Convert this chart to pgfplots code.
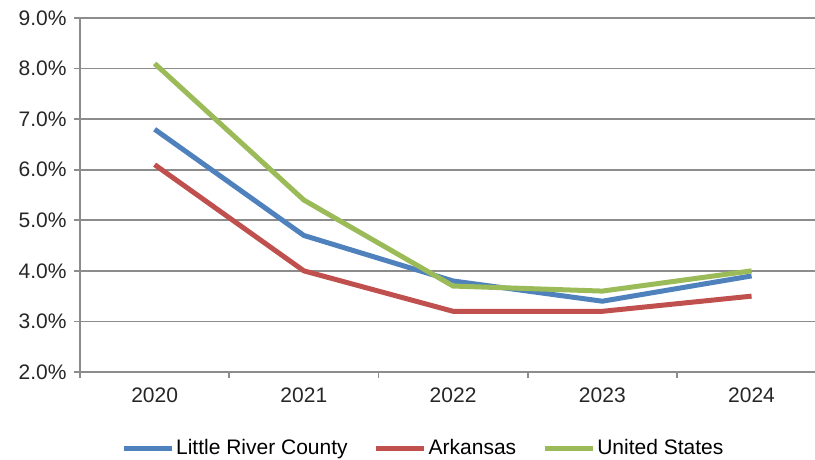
\documentclass[border=0pt]{standalone}
\usepackage{pgfplots}
\pgfplotsset{compat=1.18}
\usepackage{fontspec}
\setmainfont{Liberation Sans}
\definecolor{cblue}{HTML}{4F81BD}
\definecolor{cred}{HTML}{C0504D}
\definecolor{cgreen}{HTML}{9BBB59}
\definecolor{gridc}{HTML}{8C8C8C}
\begin{document}
\begin{tikzpicture}
\begin{axis}[
  at={(0,0)}, anchor=south west,
  scale only axis, width=735pt, height=354pt,
  xmin=-0.5, xmax=4.425, ymin=2, ymax=9,
  axis x line*=bottom, axis y line*=left,
  axis line style={gridc, line width=1.6pt},
  xtick={0,1,2,3,4}, xticklabels={2020,2021,2022,2023,2024},
  major x tick style={draw=none},
  minor xtick={-0.5,0.5,1.5,2.5,3.5},
  minor tick length=6pt,
  minor x tick style={gridc, line width=1.6pt},
  ytick={2,3,4,5,6,7,8,9},
  yticklabels={2.0\%,3.0\%,4.0\%,5.0\%,6.0\%,7.0\%,8.0\%,9.0\%},
  major tick length=6pt, tick align=outside,
  y tick style={gridc, line width=1.6pt},
  ymajorgrids, major grid style={gridc, line width=1.6pt},
  ticklabel style={font=\fontsize{21}{25}\selectfont, text=black!85},
  yticklabel style={xshift=-4pt},
  xticklabel style={yshift=-6pt},
  legend style={at={(0.467,-0.215)}, anchor=center, draw=none, fill=none,
    legend columns=-1, font=\fontsize{21}{25}\selectfont,
    /tikz/every even column/.append style={column sep=24pt},
    inner sep=0pt},
  legend image code/.code={\draw[line width=5pt] (0pt,0pt) -- (48pt,0pt);},
  clip=false,
]
\addplot[cblue, line width=5pt] coordinates {(0,6.8) (1,4.7) (2,3.8) (3,3.4) (4,3.9)};
\addplot[cred, line width=5pt] coordinates {(0,6.1) (1,4.0) (2,3.2) (3,3.2) (4,3.5)};
\addplot[cgreen, line width=5pt] coordinates {(0,8.1) (1,5.4) (2,3.7) (3,3.6) (4,4.0)};
\legend{Little River County, Arkansas, United States}
\end{axis}
\pgfresetboundingbox
\path[use as bounding box] (-80pt,-87pt) rectangle (735pt,372pt);
\end{tikzpicture}
\end{document}
